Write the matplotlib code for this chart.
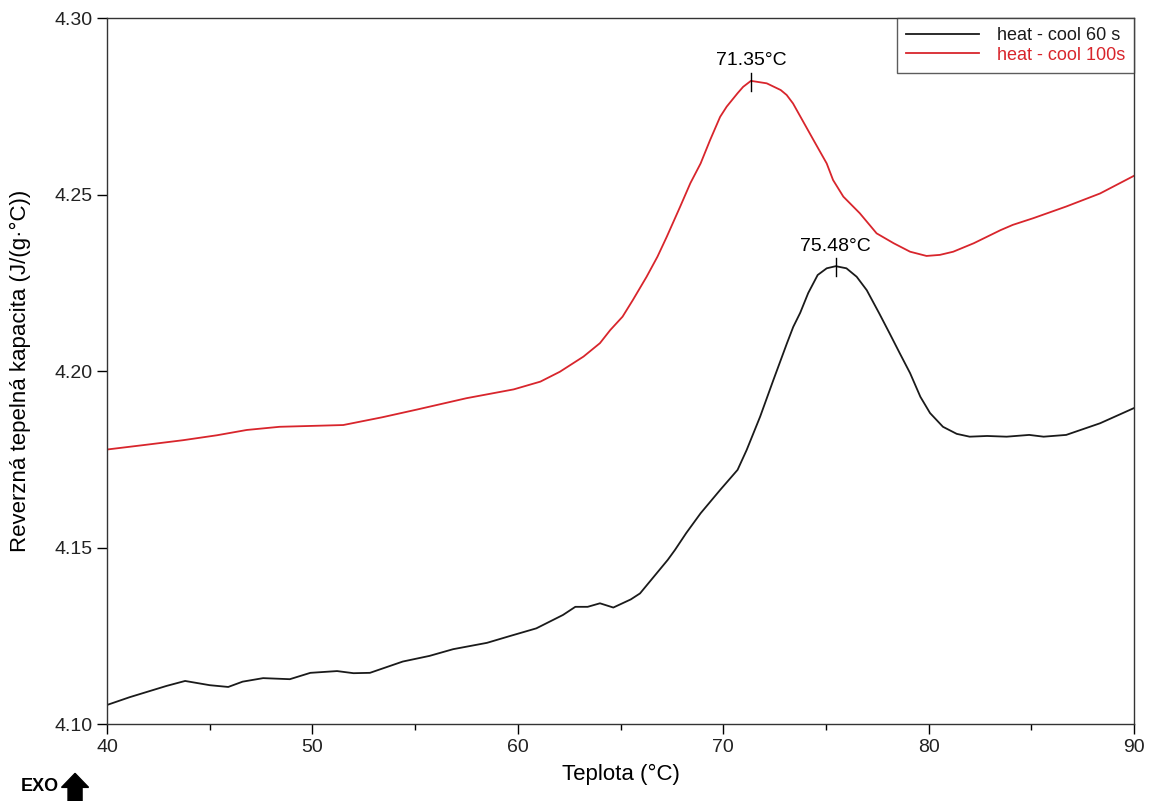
#!/usr/bin/env python3
"""Reverse heat capacity curves, heat-cool 60 s vs 100 s."""

import matplotlib
matplotlib.use("Agg")
import matplotlib.pyplot as plt
from matplotlib.patches import FancyArrow
from matplotlib.ticker import MultipleLocator

plt.rcParams["font.family"] = ["Liberation Sans", "DejaVu Sans"]

# --- data ---
t_60 = [40.0, 41.1, 42.9, 43.8, 45.0, 45.9, 46.6, 47.6, 48.9, 49.9, 51.2,
        52.0, 52.8, 54.4, 55.7, 56.85, 58.5, 59.6, 60.9, 62.2, 62.8, 63.4,
        64.0, 64.65, 65.5, 65.95, 67.3, 67.65, 68.2, 68.9, 69.85, 70.7,
        71.14, 71.8, 72.44, 73.1, 73.41, 73.75, 74.14, 74.6, 75.04, 75.48,
        76.0, 76.5, 76.99, 77.6, 78.1, 78.6, 79.1, 79.6, 80.07, 80.7, 81.37,
        82.0, 82.85, 83.8, 84.9, 85.6, 86.7, 88.35, 90.0]
cp_60 = [4.1054, 4.1076, 4.1108, 4.1122, 4.1110, 4.1105, 4.1120, 4.1130,
         4.1127, 4.1145, 4.1150, 4.1144, 4.1145, 4.1177, 4.1193, 4.1212,
         4.1230, 4.1249, 4.1271, 4.1309, 4.1332, 4.1332, 4.1342, 4.1330,
         4.1353, 4.1370, 4.1465, 4.1493, 4.1541, 4.1597, 4.1663, 4.1720,
         4.1776, 4.1871, 4.1974, 4.2078, 4.2125, 4.2165, 4.2221, 4.2272,
         4.2291, 4.2297, 4.2291, 4.2267, 4.2229, 4.2163, 4.2107, 4.2050,
         4.1994, 4.1927, 4.1881, 4.1842, 4.1822, 4.1814, 4.1816, 4.1814,
         4.1819, 4.1814, 4.1819, 4.1852, 4.1895]

t_100 = [40.05, 41.75, 43.7, 45.35, 46.8, 48.4, 51.5, 53.4, 55.1, 57.5,
         59.8, 61.1, 62.05, 63.2, 64.0, 64.5, 65.1, 65.6, 66.27, 66.8, 67.25,
         67.9, 68.4, 68.9, 69.36, 69.85, 70.17, 70.7, 70.97, 71.35, 72.12,
         72.8, 73.09, 73.4, 74.4, 75.04, 75.35, 75.85, 76.65, 77.47, 78.3,
         79.1, 79.9, 80.55, 81.2, 82.2, 83.5, 84.1, 85.1, 86.7, 88.35, 90.0]
cp_100 = [4.1778, 4.1790, 4.1804, 4.1818, 4.1833, 4.1842, 4.1847, 4.1869,
          4.1891, 4.1923, 4.1948, 4.1970, 4.1998, 4.2041, 4.2079, 4.2116,
          4.2154, 4.2201, 4.2267, 4.2324, 4.2380, 4.2465, 4.2532, 4.2588,
          4.2654, 4.2720, 4.2749, 4.2787, 4.2805, 4.2822, 4.2815, 4.2796,
          4.2782, 4.2758, 4.2654, 4.2588, 4.2541, 4.2494, 4.2447, 4.2390,
          4.2362, 4.2338, 4.2326, 4.2329, 4.2338, 4.2362, 4.2399, 4.2414,
          4.2433, 4.2466, 4.2503, 4.2553]

peaks = [(71.35, 4.2822, "71.35°C"), (75.48, 4.2297, "75.48°C")]

RED = "#d8252c"

fig = plt.figure(figsize=(11.51, 8.01), dpi=100)
ax = fig.add_axes([0.093, 0.0961, 0.8922, 0.8814])

ax.plot(t_60, cp_60, color="#1a1a1a", lw=1.3, label="heat - cool 60 s")
ax.plot(t_100, cp_100, color=RED, lw=1.3, label="heat - cool 100s")

# peak markers
for t, v, txt in peaks:
    ax.plot([t, t], [v - 0.0028, v + 0.0022], color="black", lw=1)
    ax.text(t, v + 0.0033, txt, ha="center", va="bottom", fontsize=14)

ax.set_xlim(40, 90)
ax.set_ylim(4.10, 4.30)
ax.xaxis.set_major_locator(MultipleLocator(10))
ax.xaxis.set_minor_locator(MultipleLocator(5))
ax.yaxis.set_major_locator(MultipleLocator(0.05))
ax.yaxis.set_major_formatter(plt.FormatStrFormatter("%.2f"))
ax.tick_params(which="major", direction="out", length=7, width=1, labelsize=14,
               labelcolor="#222222")
ax.tick_params(which="minor", direction="out", length=4, width=1)
for s in ax.spines.values():
    s.set_linewidth(1)
    s.set_color("#333333")

ax.set_xlabel("Teplota (°C)", fontsize=16, labelpad=6)
ax.set_ylabel("Reverzná tepelná kapacita (J/(g·°C))", fontsize=16,
              labelpad=17)

leg = ax.legend(loc="upper right", fontsize=13, frameon=True, fancybox=False,
                borderaxespad=0, handlelength=4.0, handletextpad=1.0,
                labelspacing=0.15, borderpad=0.5)
leg.get_frame().set_edgecolor("#333333")
leg.get_frame().set_linewidth(1)
for txt, line in zip(leg.get_texts(), leg.get_lines()):
    txt.set_color(line.get_color())

# EXO arrow in the bottom-left corner
fig.text(0.018, 0.008, "EXO", fontsize=13, fontweight="bold", ha="left",
         va="bottom")
fig.patches.append(FancyArrow(0.0652, 0.0, 0.0, 0.0345, width=0.0122,
                              head_width=0.0235, head_length=0.0175,
                              length_includes_head=True, color="black",
                              transform=fig.transFigure, figure=fig))

fig.savefig("out.png", dpi=100)
plt.close(fig)
